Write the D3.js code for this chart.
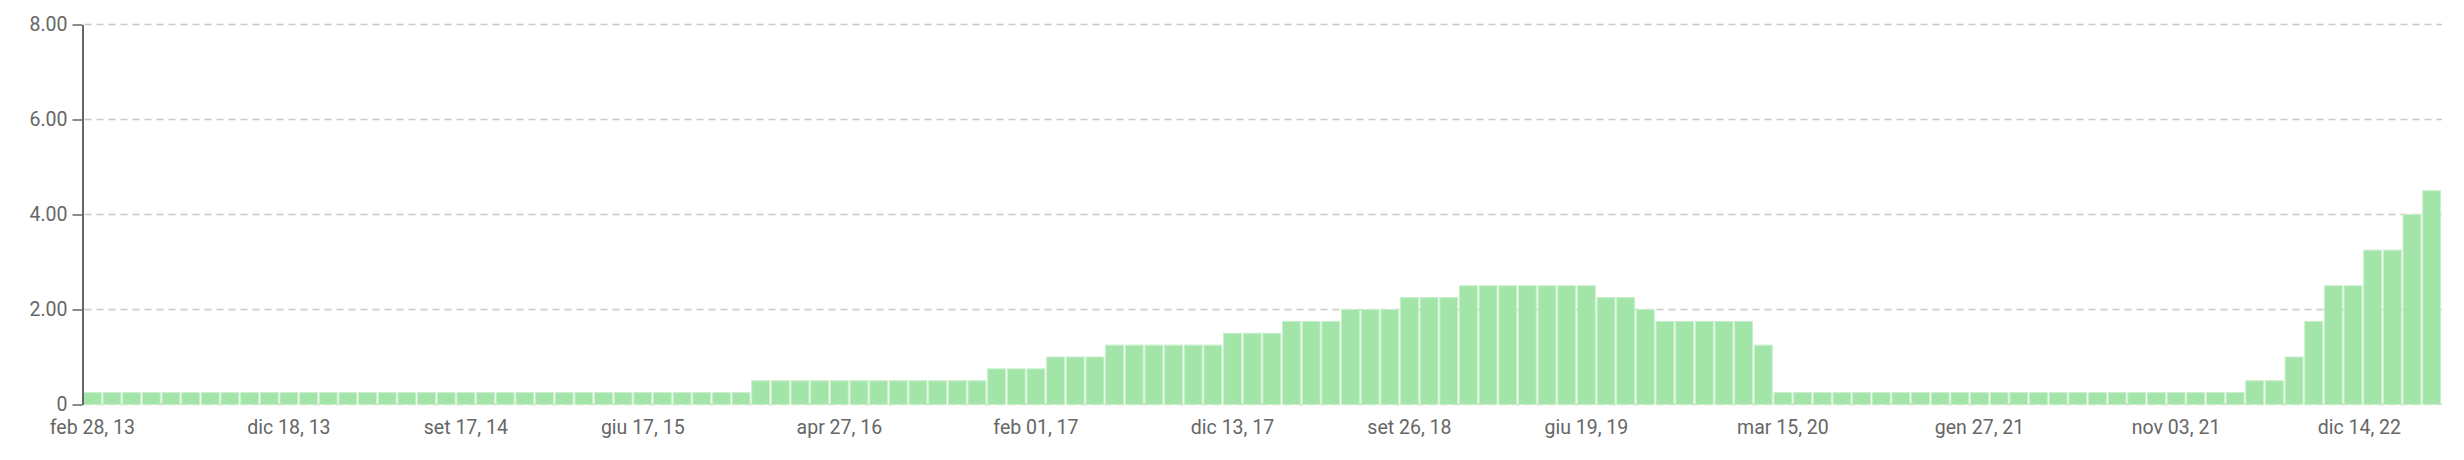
<!DOCTYPE html>
<html>
<head>
<meta charset="utf-8">
<script src="https://cdn.jsdelivr.net/npm/d3@7"></script>
<style>
  html, body { margin: 0; padding: 0; background: #fff; }
  svg { display: block; }
  text { font-family: Roboto, "Noto Sans", sans-serif; }
</style>
</head>
<body>
<div id="chart"></div>
<script>
// ---- Data (one bar per month; March 2020 has two entries) ----
const dates = [
  "feb 28, 13","mar 20, 13","apr 30, 13","mag 01, 13","giu 19, 13","lug 31, 13","ago 31, 13","set 18, 13","ott 30, 13","nov 30, 13","dic 18, 13",
  "gen 29, 14","feb 28, 14","mar 19, 14","apr 30, 14","mag 31, 14","giu 18, 14","lug 30, 14","ago 31, 14","set 17, 14","ott 29, 14","nov 30, 14","dic 17, 14",
  "gen 28, 15","feb 28, 15","mar 18, 15","apr 29, 15","mag 31, 15","giu 17, 15","lug 29, 15","ago 31, 15","set 17, 15","ott 28, 15","nov 30, 15","dic 16, 15",
  "gen 27, 16","feb 29, 16","mar 16, 16","apr 27, 16","mag 31, 16","giu 15, 16","lug 27, 16","ago 31, 16","set 21, 16","ott 31, 16","nov 02, 16","dic 14, 16",
  "gen 31, 17","feb 01, 17","mar 15, 17","apr 30, 17","mag 03, 17","giu 14, 17","lug 26, 17","ago 31, 17","set 20, 17","ott 31, 17","nov 01, 17","dic 13, 17",
  "gen 31, 18","feb 28, 18","mar 21, 18","apr 30, 18","mag 02, 18","giu 13, 18","lug 31, 18","ago 01, 18","set 26, 18","ott 31, 18","nov 08, 18","dic 19, 18",
  "gen 30, 19","feb 28, 19","mar 20, 19","apr 30, 19","mag 01, 19","giu 19, 19","lug 31, 19","ago 31, 19","set 18, 19","ott 30, 19","nov 30, 19","dic 11, 19",
  "gen 29, 20","feb 29, 20","mar 03, 20","mar 15, 20","apr 29, 20","mag 31, 20","giu 10, 20","lug 29, 20","ago 31, 20","set 16, 20","ott 31, 20","nov 05, 20","dic 16, 20",
  "gen 27, 21","feb 28, 21","mar 17, 21","apr 28, 21","mag 31, 21","giu 16, 21","lug 28, 21","ago 31, 21","set 22, 21","ott 31, 21","nov 03, 21","dic 15, 21",
  "gen 26, 22","feb 28, 22","mar 16, 22","apr 30, 22","mag 04, 22","giu 15, 22","lug 27, 22","ago 31, 22","set 21, 22","ott 31, 22","nov 02, 22","dic 14, 22"
];

const values = [
  0.25,0.25,0.25,0.25,0.25,0.25,0.25,0.25,0.25,0.25,0.25,
  0.25,0.25,0.25,0.25,0.25,0.25,0.25,0.25,0.25,0.25,0.25,0.25,
  0.25,0.25,0.25,0.25,0.25,0.25,0.25,0.25,0.25,0.25,0.25,0.5,
  0.5,0.5,0.5,0.5,0.5,0.5,0.5,0.5,0.5,0.5,0.5,0.75,
  0.75,0.75,1.0,1.0,1.0,1.25,1.25,1.25,1.25,1.25,1.25,1.5,
  1.5,1.5,1.75,1.75,1.75,2.0,2.0,2.0,2.25,2.25,2.25,2.5,
  2.5,2.5,2.5,2.5,2.5,2.5,2.25,2.25,2.0,1.75,1.75,1.75,
  1.75,1.75,1.25,0.25,0.25,0.25,0.25,0.25,0.25,0.25,0.25,0.25,0.25,
  0.25,0.25,0.25,0.25,0.25,0.25,0.25,0.25,0.25,0.25,0.25,0.25,
  0.25,0.25,0.5,0.5,1.0,1.75,2.5,2.5,3.25,3.25,4.0,4.5
];

const xTickLabels = [
  "feb 28, 13","dic 18, 13","set 17, 14","giu 17, 15","apr 27, 16","feb 01, 17",
  "dic 13, 17","set 26, 18","giu 19, 19","mar 15, 20","gen 27, 21","nov 03, 21","dic 14, 22"
];

const yTicks = [0, 2, 4, 6, 8];

// ---- Layout ----
const W = 2464, H = 460;
const margin = { top: 24.5, right: 23, bottom: 55.5, left: 82.5 };
const plotRight = W - margin.right;
const plotBottom = H - margin.bottom;
const FONT = "19.5px";

const svg = d3.select("#chart").append("svg")
  .attr("width", W).attr("height", H);

const x = d3.scaleBand()
  .domain(dates)
  .range([margin.left + 0.5, plotRight])
  .paddingInner(0.09)
  .paddingOuter(0.02);

const y = d3.scaleLinear()
  .domain([0, 8])
  .range([plotBottom, margin.top]);

// gridlines (behind bars)
svg.append("g")
  .selectAll("line")
  .data(yTicks)
  .join("line")
  .attr("x1", margin.left + 2)
  .attr("x2", plotRight + 1)
  .attr("y1", d => y(d))
  .attr("y2", d => y(d))
  .attr("stroke", "#c8c8c8")
  .attr("stroke-width", 1.5)
  .attr("stroke-dasharray", "7,5");

// bars
const data = dates.map((d, i) => ({ date: d, value: values[i] }));
svg.append("g")
  .selectAll("rect")
  .data(data)
  .join("rect")
  .attr("x", d => x(d.date))
  .attr("width", x.bandwidth())
  .attr("y", d => y(d.value))
  .attr("height", d => y(0) - y(d.value))
  .attr("fill", "#a3e5a9")
  .attr("stroke", "#c6efca")
  .attr("stroke-width", 1);

// y axis
const yAxis = d3.axisLeft(y)
  .tickValues(yTicks)
  .tickSize(10)
  .tickSizeOuter(0)
  .tickPadding(5)
  .tickFormat(d => d === 0 ? "0" : d3.format(".2f")(d));

const gy = svg.append("g")
  .attr("transform", `translate(${margin.left},0)`)
  .call(yAxis);
gy.select(".domain").attr("stroke", "#666").attr("stroke-width", 2);
gy.selectAll(".tick line").attr("stroke", "#666").attr("stroke-width", 1.5);
gy.selectAll(".tick text")
  .attr("fill", "#666")
  .style("font-size", FONT)
  .style("font-family", "Roboto, 'Noto Sans', sans-serif");

// x axis (labels only)
const xAxis = d3.axisBottom(x)
  .tickValues(xTickLabels)
  .tickSize(0)
  .tickPadding(16);

const gx = svg.append("g")
  .attr("transform", `translate(0,${plotBottom})`)
  .call(xAxis);
gx.select(".domain").remove();
gx.selectAll(".tick text")
  .attr("fill", "#666")
  .style("font-size", FONT)
  .style("font-family", "Roboto, 'Noto Sans', sans-serif");

// keep the last label clear of the right edge
gx.selectAll(".tick").each(function () {
  const t = d3.select(this);
  const txt = t.select("text");
  const tr = t.attr("transform");
  const cx = +/translate\(([-\d.]+)/.exec(tr)[1];
  const w = txt.node().getComputedTextLength();
  const limit = plotRight - 40;
  if (cx + w / 2 > limit) {
    txt.attr("x", limit - w / 2 - cx);
  }
});
</script>
</body>
</html>
